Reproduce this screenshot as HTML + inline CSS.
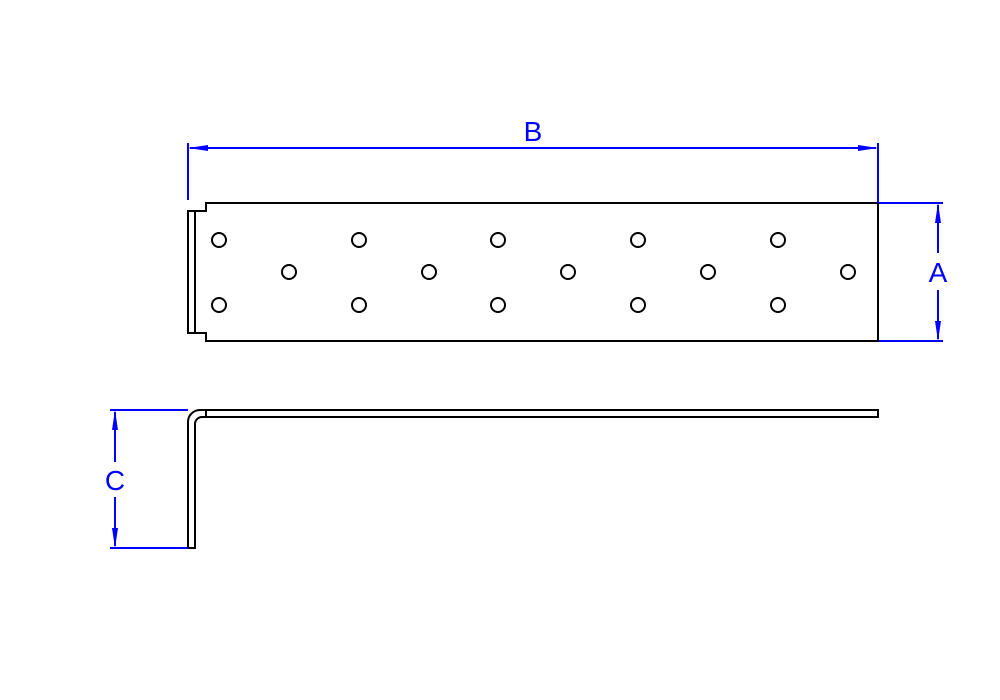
<!DOCTYPE html>
<html><head><meta charset="utf-8"><style>html,body{margin:0;padding:0;background:#fff}svg{display:block}</style></head>
<body>
<svg width="1000" height="700" viewBox="0 0 1000 700" xmlns="http://www.w3.org/2000/svg">
<g fill="none" stroke="#000" stroke-width="2">
<path d="M206,203 H878 V341 H206 V333 H188 V211 H206 Z"/>
<line x1="195" y1="211" x2="195" y2="333"/>
<g>
<circle cx="219" cy="240" r="7"/><circle cx="359" cy="240" r="7"/><circle cx="498" cy="240" r="7"/><circle cx="638" cy="240" r="7"/><circle cx="778" cy="240" r="7"/>
<circle cx="219" cy="305" r="7"/><circle cx="359" cy="305" r="7"/><circle cx="498" cy="305" r="7"/><circle cx="638" cy="305" r="7"/><circle cx="778" cy="305" r="7"/>
<circle cx="289" cy="272" r="7"/><circle cx="429" cy="272" r="7"/><circle cx="568" cy="272" r="7"/><circle cx="708" cy="272" r="7"/><circle cx="848" cy="272" r="7"/>
</g>
<path d="M878,410 H200 A12,12 0 0 0 188,422 V548 H195 V424 A7,7 0 0 1 202,417 H878 Z"/>
<line x1="206" y1="410" x2="206" y2="417"/>
</g>
<g stroke="#0000ff" stroke-width="2" fill="#0000ff">
<line x1="188" y1="143" x2="188" y2="200"/>
<line x1="878" y1="143" x2="878" y2="203"/>
<line x1="190" y1="148" x2="876" y2="148"/>
<path d="M188,148 L208,145 L208,151 Z" stroke="none"/>
<path d="M878,148 L858,145 L858,151 Z" stroke="none"/>
<line x1="879" y1="203" x2="943" y2="203"/>
<line x1="879" y1="341" x2="943" y2="341"/>
<line x1="938" y1="205" x2="938" y2="253"/>
<line x1="938" y1="290" x2="938" y2="339"/>
<path d="M938,203 L935,223 L941,223 Z" stroke="none"/>
<path d="M938,341 L935,321 L941,321 Z" stroke="none"/>
<line x1="110" y1="410" x2="188" y2="410"/>
<line x1="110" y1="548" x2="188" y2="548"/>
<line x1="115" y1="412" x2="115" y2="462"/>
<line x1="115" y1="497" x2="115" y2="546"/>
<path d="M115,410 L112,430 L118,430 Z" stroke="none"/>
<path d="M115,548 L112,528 L118,528 Z" stroke="none"/>
</g>
<g fill="#0000ff" font-family="Liberation Sans, sans-serif" font-size="28" text-anchor="middle">
<text x="533" y="141">B</text>
<text x="938" y="282">A</text>
<text x="115" y="490">C</text>
</g>
</svg>
</body></html>
